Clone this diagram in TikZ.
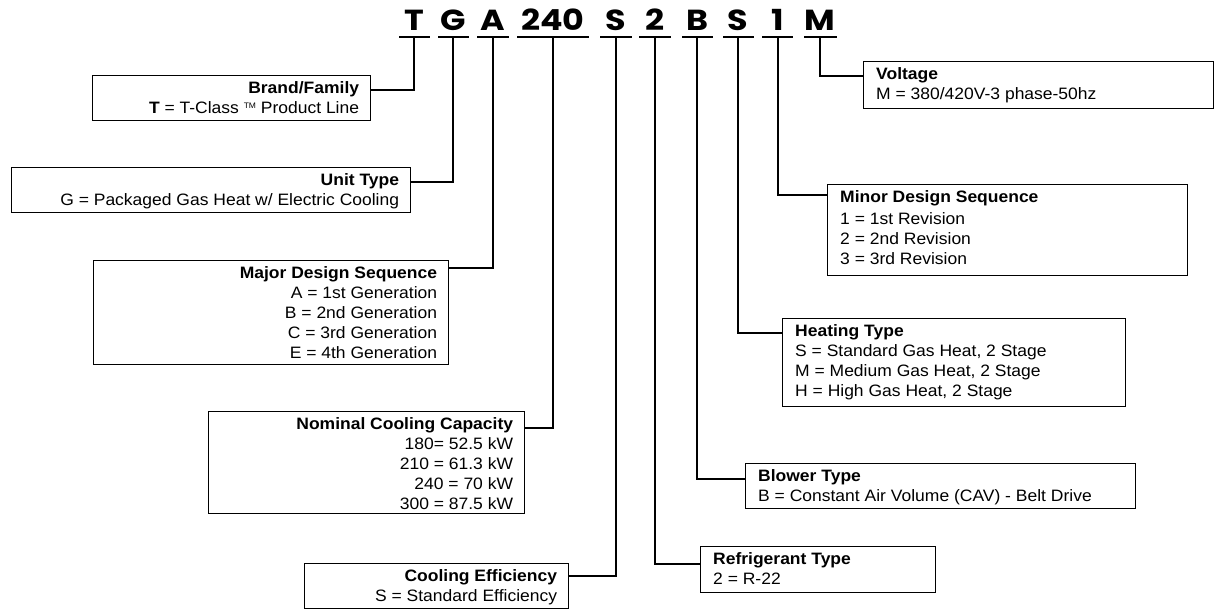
\documentclass[tikz,border=0pt]{standalone}
\usepackage{fontspec}
\setmainfont[FakeStretch=1.06]{Liberation Sans}
\newfontfamily\codefont[FakeStretch=1.15]{Poppins}
\usetikzlibrary{calc}
\begin{document}
\begin{tikzpicture}[x=1pt,y=-1pt,
  box/.style={draw, line width=1.3pt, inner sep=0pt, anchor=north west},
  rtxt/.style={anchor=north east, align=right, inner sep=0pt, font=\fontsize{16.5}{20}\selectfont},
  ltxt/.style={anchor=north west, align=left, inner sep=0pt, font=\fontsize{16.5}{20}\selectfont},
  code/.style={anchor=base, inner sep=0pt, font=\codefont\bfseries\fontsize{29}{29}\selectfont},
  uline/.style={line width=2pt},
  conn/.style={line width=2pt}]
\useasboundingbox (0,0) rectangle (1215,610);

% code letters
\node[code] (cT) at (414,31) {T};
\node[code] (cG) at (453,31) {G};
\node[code] (cA) at (493,31) {A};
\node[code] (cN) at (553,31) {240};
\node[code] (cS) at (616,31) {S};
\node[code] (c2) at (655,31) {2};
\node[code] (cB) at (697,31) {B};
\node[code] (cH) at (738,31) {S};
\node[code] (c1) at (778,31) {1};
\node[code] (cM) at (820,31) {M};

% underlines
\draw[uline] (399,37) -- (430,37);
\draw[uline] (438,37) -- (469,37);
\draw[uline] (477,37) -- (509,37);
\draw[uline] (517,37) -- (589,37);
\draw[uline] (600,37) -- (632,37);
\draw[uline] (639,37) -- (671,37);
\draw[uline] (682,37) -- (713,37);
\draw[uline] (723,37) -- (754,37);
\draw[uline] (762,37) -- (793,37);
\draw[uline] (804,37) -- (837,37);

% tick tops
\coordinate (tT) at (414,37);
\coordinate (tG) at (453,37);
\coordinate (tA) at (493,37);
\coordinate (tN) at (553,37);
\coordinate (tS) at (616,37);
\coordinate (t2) at (655,37);
\coordinate (tB) at (697,37);
\coordinate (tH) at (738,37);
\coordinate (t1) at (778,37);
\coordinate (tM) at (820,37);

% boxes
\node[box, minimum width=278pt, minimum height=45pt] (brand) at (92,75) {};
\node[box, minimum width=399pt, minimum height=45pt] (unit) at (11,167) {};
\node[box, minimum width=355pt, minimum height=104pt] (major) at (93,260) {};
\node[box, minimum width=316pt, minimum height=102pt] (nom) at (208,411) {};
\node[box, minimum width=264pt, minimum height=45pt] (eff) at (304,563) {};
\node[box, minimum width=350pt, minimum height=47pt] (volt) at (863,61) {};
\node[box, minimum width=360pt, minimum height=91pt] (minor) at (827,184) {};
\node[box, minimum width=343pt, minimum height=88pt] (heat) at (782,318) {};
\node[box, minimum width=390pt, minimum height=45pt] (blow) at (745,463) {};
\node[box, minimum width=235pt, minimum height=46pt] (refr) at (700,546) {};

% texts
\node[rtxt] (brandtx) at ($(brand.north east)+(-12,6)$) {\textbf{Brand/Family}\\\textbf{T} = T-Class {\fontsize{8}{8}\selectfont\raisebox{5pt}{TM}}\ Product Line};
\node[rtxt] (unittx) at ($(unit.north east)+(-12,6)$) {\textbf{Unit Type}\\G = Packaged Gas Heat w/ Electric Cooling};
\node[rtxt] (majortx) at ($(major.north east)+(-12,6)$) {\textbf{Major Design Sequence}\\A = 1st Generation\\B = 2nd Generation\\C = 3rd Generation\\E = 4th Generation};
\node[rtxt] (nomtx) at ($(nom.north east)+(-12,6)$) {\textbf{Nominal Cooling Capacity}\\180= 52.5 kW\\210 = 61.3 kW\\240 = 70 kW\\300 = 87.5 kW};
\node[rtxt] (efftx) at ($(eff.north east)+(-12,6)$) {\textbf{Cooling Efficiency}\\S = Standard Efficiency};
\node[ltxt] (volttx) at ($(volt.north west)+(13,6)$) {\textbf{Voltage}\\M = 380/420V-3 phase-50hz};
\node[ltxt] (minortx) at ($(minor.north west)+(13,6)$) {\textbf{Minor Design Sequence}\\[2pt]1 = 1st Revision\\2 = 2nd Revision\\3 = 3rd Revision};
\node[ltxt] (heattx) at ($(heat.north west)+(13,6)$) {\textbf{Heating Type}\\S = Standard Gas Heat, 2 Stage\\M = Medium Gas Heat, 2 Stage\\H = High Gas Heat, 2 Stage};
\node[ltxt] (blowtx) at ($(blow.north west)+(13,6)$) {\textbf{Blower Type}\\B = Constant Air Volume (CAV) - Belt Drive};
\node[ltxt] (refrtx) at ($(refr.north west)+(13,6)$) {\textbf{Refrigerant Type}\\2 = R-22};

% connectors
\draw[conn] (tT) |- ($(brand.north east)+(0,15)$);
\draw[conn] (tG) |- ($(unit.north east)+(0,15)$);
\draw[conn] (tA) |- ($(major.north east)+(0,8)$);
\draw[conn] (tN) |- ($(nom.north east)+(0,17)$);
\draw[conn] (tS) |- ($(eff.north east)+(0,13)$);
\draw[conn] (t2) |- ($(refr.north west)+(0,18)$);
\draw[conn] (tB) |- ($(blow.north west)+(0,16)$);
\draw[conn] (tH) |- ($(heat.north west)+(0,15)$);
\draw[conn] (t1) |- ($(minor.north west)+(0,11)$);
\draw[conn] (tM) |- ($(volt.north west)+(0,15)$);
\end{tikzpicture}
\end{document}
